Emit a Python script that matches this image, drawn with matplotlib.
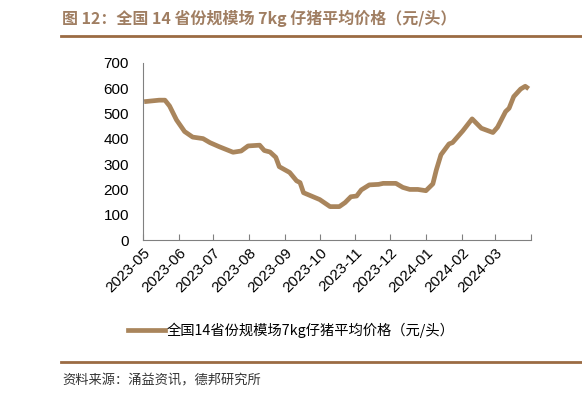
import matplotlib
matplotlib.use("Agg")
import matplotlib.pyplot as plt
import pandas as pd
from matplotlib.lines import Line2D

plt.rcParams['font.family'] = ['Liberation Sans', 'Noto Sans CJK SC', 'DejaVu Sans']

# data
dates = ['2023-05-02', '2023-05-15', '2023-05-20', '2023-05-24', '2023-05-30',
         '2023-06-06', '2023-06-13', '2023-06-22', '2023-06-28', '2023-07-06',
         '2023-07-18', '2023-07-25', '2023-07-31', '2023-08-10', '2023-08-14',
         '2023-08-19', '2023-08-24', '2023-08-27', '2023-09-05', '2023-09-11',
         '2023-09-14', '2023-09-17', '2023-10-01', '2023-10-10', '2023-10-18',
         '2023-10-23', '2023-10-28', '2023-11-02', '2023-11-06', '2023-11-13',
         '2023-11-21', '2023-11-25', '2023-12-06', '2023-12-12', '2023-12-18',
         '2023-12-25', '2024-01-01', '2024-01-07', '2024-01-10', '2024-01-14',
         '2024-01-21', '2024-01-24', '2024-02-02', '2024-02-10', '2024-02-18',
         '2024-02-28', '2024-03-03', '2024-03-10', '2024-03-13', '2024-03-17',
         '2024-03-23', '2024-03-27', '2024-03-30']
price = [547, 553, 553, 530, 475,
         429, 407, 401, 385, 369,
         347, 352, 372, 375, 354,
         348, 327, 290, 267, 234,
         227, 187, 160, 132, 132,
         148, 171, 174, 198, 218,
         220, 224, 224, 208, 200,
         200, 195, 222, 277, 337,
         380, 385, 432, 479, 442,
         425, 446, 508, 521, 567,
         597, 608, 598]
series_name = '全国14省份规模场7kg仔猪平均价格（元/头）'
title = '图 12：全国 14 省份规模场 7kg 仔猪平均价格（元/头）'
source = '资料来源：涌益资讯，德邦研究所'
months = pd.date_range('2023-05-01', '2024-04-01', freq='MS')

line_color = '#A9855C'
brown = '#9B6B43'

fig = plt.figure(figsize=(5.82, 4.0), dpi=100)
ax = fig.add_axes([0.2457, 0.40, 0.6667, 0.4425])

x = pd.to_datetime(dates)
ax.plot(x, price, color=line_color, lw=3.4, solid_capstyle='butt')

ax.set_ylim(0, 700)
ax.set_yticks(range(0, 701, 100))
ax.set_xlim(months[0], months[-1])
ax.set_xticks(months)
ax.set_xticklabels([d.strftime('%Y-%m') if d < months[-1] else '' for d in months],
                   rotation=45, ha='right', rotation_mode='anchor')
ax.tick_params(axis='x', direction='in', length=4, color='#808080', labelsize=11, pad=4)
ax.tick_params(axis='y', length=0, labelsize=11, pad=10)
for s in ['top', 'right']:
    ax.spines[s].set_visible(False)
for s in ['left', 'bottom']:
    ax.spines[s].set_color('#808080')
    ax.spines[s].set_linewidth(0.8)

# legend
handle = Line2D([], [], color=line_color, lw=3.4)
fig.legend([handle], [series_name], loc='center', bbox_to_anchor=(0.50, 0.175),
           frameon=False, handlelength=2.6, handletextpad=0.1,
           prop={'family': ['Noto Sans CJK SC'], 'size': 10.3})

# title, separators and source
fig.text(0.107, 0.955, title, color='#A07E62', fontsize=11.5, fontweight='bold',
         family=['Noto Sans CJK SC'], va='center')
fig.add_artist(Line2D([0.105, 1.0], [0.91, 0.91], color=brown, lw=2))
fig.add_artist(Line2D([0.105, 1.0], [0.095, 0.095], color=brown, lw=2))
fig.text(0.107, 0.048, source, color='#333333', fontsize=9.5,
         family=['Noto Sans CJK SC'], va='center')

fig.savefig('out.png', dpi=100)
